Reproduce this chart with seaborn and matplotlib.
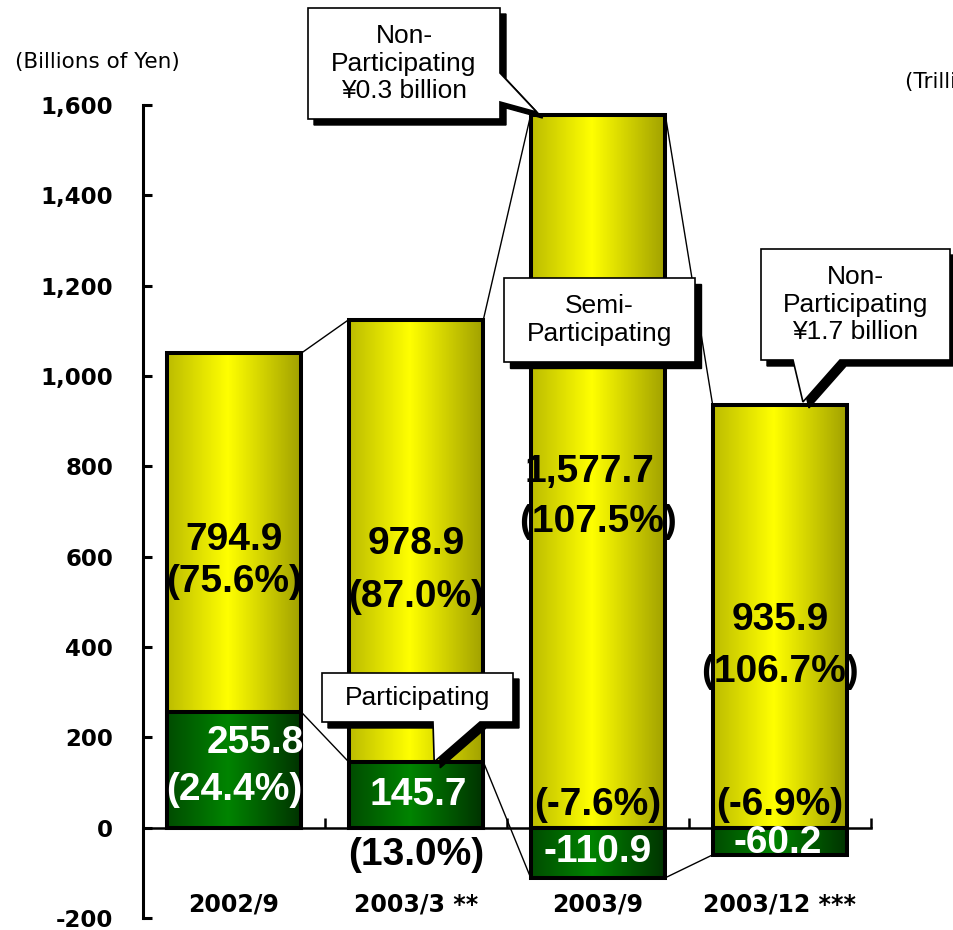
import numpy as np
import pandas as pd
import matplotlib
matplotlib.use("Agg")
import matplotlib.pyplot as plt
import seaborn as sns
from matplotlib.colors import LinearSegmentedColormap
from matplotlib.patches import Polygon
from matplotlib.transforms import IdentityTransform

# ---- data (billions of yen) ----
periods = ["2002/9", "2003/3 **", "2003/9", "2003/12 ***"]
semi_participating = [794.9, 978.9, 1577.7, 935.9]
participating = [255.8, 145.7, -110.9, -60.2]
semi_share = ["75.6%", "87.0%", "107.5%", "106.7%"]
part_share = ["24.4%", "13.0%", "-7.6%", "-6.9%"]
y_ticks = list(range(-200, 1601, 200))

W, H = 954, 930
sns.set_style("ticks", rc={"axes.edgecolor": "black", "xtick.color": "black",
                           "ytick.color": "black", "text.color": "black"})
plt.rcParams["font.family"] = ["DejaVu Sans"]

fig = plt.figure(figsize=(W / 100, H / 100), dpi=100)
ax = fig.add_axes([143 / W, (H - 918) / H, 728 / W, 813 / H])

bar_w = 0.74
stack_top = [s + max(p, 0) for s, p in zip(semi_participating, participating)]
df = pd.DataFrame({"period": periods, "top": stack_top, "part": participating})

n0 = len(ax.patches)
sns.barplot(data=df, x="period", y="top", width=bar_w, color="yellow",
            errorbar=None, ax=ax, edgecolor="black", linewidth=2.9, zorder=2)
yellow_bars = ax.patches[n0:]
n1 = len(ax.patches)
sns.barplot(data=df, x="period", y="part", width=bar_w, color="green",
            errorbar=None, ax=ax, edgecolor="black", linewidth=2.9, zorder=3)
green_bars = ax.patches[n1:]


def shade(bars, stops):
    """Replace flat bar fills with a horizontal metallic gradient."""
    cmap = LinearSegmentedColormap.from_list("bar_grad", stops)
    grad = np.linspace(0, 1, 256).reshape(1, -1)
    for b in bars:
        x0, y0 = b.get_x(), b.get_y()
        w, h = b.get_width(), b.get_height()
        im = ax.imshow(grad, cmap=cmap, aspect="auto", interpolation="bilinear",
                       extent=[x0, x0 + w, min(y0, y0 + h), max(y0, y0 + h)],
                       zorder=b.get_zorder() - 0.05)
        im.set_clip_path(b)
        b.set_facecolor("none")


shade(yellow_bars, [(0, "#bcbc00"), (0.45, "#ffff00"), (1, "#a0a000")])
shade(green_bars, [(0, "#004c00"), (0.45, "#008400"), (1, "#003200")])

# series lines joining neighbouring bars
for i in range(len(periods) - 1):
    for series in (stack_top, participating):
        ax.plot([i + bar_w / 2, i + 1 - bar_w / 2], [series[i], series[i + 1]],
                color="black", lw=1.0, zorder=4)

ax.set_xlim(-0.5, 3.5)
ax.set_ylim(-200, 1600)
ax.set_xlabel("")
ax.set_ylabel("")
for s in ["top", "right"]:
    ax.spines[s].set_visible(False)
ax.spines["left"].set_linewidth(2.2)
ax.spines["bottom"].set_position(("data", 0))
ax.spines["bottom"].set_linewidth(1.8)

ax.set_yticks(y_ticks)
ax.set_yticklabels([f"{v:,}" for v in y_ticks])
ax.tick_params(axis="y", direction="in", length=6.5, width=2.2, pad=21.5,
               labelsize=16.5)
ax.set_xticks(range(len(periods)))
ax.set_xticklabels(periods)
ax.set_xticks([i + 0.5 for i in range(len(periods))], minor=True)
ax.tick_params(axis="x", which="major", length=0, pad=46.5, labelsize=17)
ax.tick_params(axis="x", which="minor", direction="in", length=7, width=1.8)
for lbl in ax.get_yticklabels() + ax.get_xticklabels():
    lbl.set_fontweight("bold")

# ---- value labels ----
val_font = dict(family=["Liberation Sans"], fontsize=28, fontweight="bold",
                ha="center", va="center", zorder=6)
semi_label_y = [(637, 545), (627, 511), (788, 677), (460, 345)]
for i, (v, sh) in enumerate(zip(semi_participating, semi_share)):
    dx = -0.045 if i == 2 else 0
    ax.text(i + dx, semi_label_y[i][0], f"{v:,.1f}", color="black", **val_font)
    ax.text(i, semi_label_y[i][1], f"({sh})", color="black", **val_font)

part_label_pos = [((0.115, 188), (0, 84), "white"),
                  ((0.01, 73), (0, -60), "black"),
                  ((0, -53), (0, 51), "black"),
                  ((-0.01, -33), (0, 51), "black")]
for i, (v, sh) in enumerate(zip(participating, part_share)):
    (vx, vy), (sx, sy), share_col = part_label_pos[i]
    ax.text(i + vx, vy, f"{v:,.1f}", color="white", **val_font)
    ax.text(i + sx, sy, f"({sh})", color=share_col, **val_font)

fig.text(97 / W, 1 - 62 / H, "(Billions of Yen)", fontsize=15.5,
         ha="center", va="center")
fig.text(905 / W, 1 - 82 / H, "(Trillions of Yen)", fontsize=15.5,
         ha="left", va="center")

# ---- callouts (built in pixel space, tips anchored to the bars) ----
fig.canvas.draw()


def to_img(x, y):
    dx, dy = ax.transData.transform((x, y))
    return dx, H - dy


def callout(box, lines, tail_edge=None, base=None, tip=None, shadow=6):
    x0, y0, x1, y1 = box
    pts = [(x0, y0), (x1, y0)]
    if tail_edge == "right":
        pts += [(x1, base[0]), tip, (x1, base[1]), (x1, y1), (x0, y1)]
    elif tail_edge == "bottom":
        pts += [(x1, y1), (base[1], y1), tip, (base[0], y1), (x0, y1)]
    else:
        pts += [(x1, y1), (x0, y1)]
    disp = [(px, H - py) for px, py in pts]
    sh = [(px + shadow, py - shadow) for px, py in disp]
    fig.add_artist(Polygon(sh, closed=True, facecolor="black", edgecolor="black",
                           lw=1, transform=IdentityTransform(), zorder=10))
    fig.add_artist(Polygon(disp, closed=True, facecolor="white", edgecolor="black",
                           lw=1.2, transform=IdentityTransform(), zorder=11))
    fig.text((x0 + x1) / 2, H - (y0 + y1) / 2, lines, ha="center", va="center",
             family=["Liberation Sans"], fontsize=19, linespacing=1.17,
             transform=IdentityTransform(), zorder=12)


tx, ty = to_img(2 - bar_w / 2, stack_top[2])
callout((308, 8, 500, 119), "Non-\nParticipating\n¥0.3 billion",
        "right", (73, 102), (tx + 6, ty - 3))
callout((504, 278, 695, 362), "Semi-\nParticipating")
tx, ty = to_img(3 + 0.126, stack_top[3])
callout((761, 249, 950, 360), "Non-\nParticipating\n¥1.7 billion",
        "bottom", (793, 840), (tx, ty - 3))
tx, ty = to_img(1.1, participating[1])
callout((322, 673, 513, 722), "Participating", "bottom", (433, 480), (tx, ty))

fig.savefig("out.png", dpi=100)
